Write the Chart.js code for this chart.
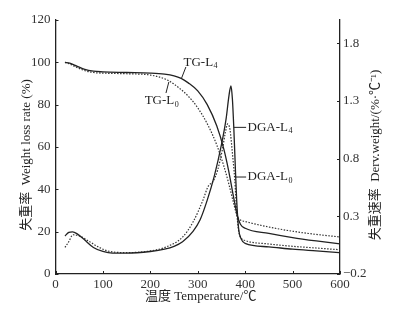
<!DOCTYPE html>
<html>
<head>
<title>TG / DGA curves</title>
<script src="https://cdn.jsdelivr.net/npm/chart.js"></script>
<style>
    body { margin: 0; background: #fff; }
    #wrap { width: 397px; height: 316px; position: relative; }
</style>
</head>
<body>
<div id="wrap"><canvas id="chart"></canvas></div>
<script>
    // temperatures (°C) and values
    const tgL4T = [20, 30, 45, 60, 80, 100, 150, 200, 230, 250, 265, 280, 300, 320, 340, 355, 365, 375, 383, 390, 400, 450, 500, 550, 600];
    const tgL4  = [100, 99.6, 98.2, 96.8, 95.8, 95.5, 95.2, 94.9, 94.4, 93.6, 92.4, 90.3, 86.5, 80, 70, 59, 49, 37, 28, 23.5, 21.6, 19.2, 17.2, 15.6, 14.2];

    const tgL0T = [20, 30, 45, 60, 80, 100, 150, 200, 237, 260, 280, 300, 320, 340, 355, 365, 375, 383, 390, 400, 450, 500, 550, 600];
    const tgL0  = [100, 99.2, 97.6, 96.2, 95.2, 94.9, 94.6, 94, 91.5, 88, 84, 78.5, 71, 61, 51, 43, 34, 27.5, 25.5, 24.8, 22.2, 20.2, 18.7, 17.5];

    const dgaL4T = [20, 28, 36, 45, 60, 80, 100, 120, 150, 200, 230, 250, 268, 290, 305, 320, 335, 350, 360, 366, 370, 373, 376, 379, 382, 386, 392, 400, 450, 500, 550, 600];
    const dgaL4  = [0.13, 0.16, 0.165, 0.15, 0.1, 0.03, -0.005, -0.02, -0.02, -0.005, 0.015, 0.04, 0.08, 0.17, 0.27, 0.44, 0.65, 0.92, 1.15, 1.35, 1.43, 1.32, 1.07, 0.75, 0.45, 0.2, 0.1, 0.065, 0.035, 0.015, 0.0, -0.015];

    const dgaL0T = [20, 28, 37, 50, 70, 90, 110, 150, 200, 234, 268, 290, 311, 322, 332, 342, 352, 358, 363, 368, 373, 378, 382, 386, 392, 400, 450, 500, 550, 600];
    const dgaL0  = [0.03, 0.08, 0.14, 0.13, 0.085, 0.035, 0.0, -0.015, 0.0, 0.035, 0.12, 0.25, 0.44, 0.56, 0.6, 0.7, 0.88, 1.02, 1.1, 1.05, 0.85, 0.62, 0.35, 0.18, 0.11, 0.09, 0.06, 0.04, 0.025, 0.01];

    const rightTicks = [-0.2, 0.3, 0.8, 1.3, 1.8];

    // curve labels: text, subscript, anchor (T, value, axis), leader line from/to
    const curveLabels = [
        { main: 'TG-L', sub: '4', axis: 'y', t: 270, v: 100, lead: [[275, 97.8], [266, 92.6]] },
        { main: 'TG-L', sub: '0', axis: 'y', t: 188, v: 82, lead: [[233, 85.5], [239, 90.7]] },
        { main: 'DGA-L', sub: '4', axis: 'y1', t: 405, v: 1.07, lead: [[376, 1.07], [402, 1.07]] },
        { main: 'DGA-L', sub: '0', axis: 'y1', t: 405, v: 0.64, lead: [[379, 0.64], [402, 0.64]] }
    ];

    const SERIF = "'Liberation Serif', 'Times New Roman', 'Noto Sans CJK SC', serif";
    const INK = '#222';

    const pts = (ts, vs) => ts.map((t, i) => ({ x: t, y: vs[i] }));

    const tickMarks = {
        id: 'tickMarks',
        afterDraw(chart) {
            const { ctx, chartArea: a, scales } = chart;
            ctx.save();
            ctx.strokeStyle = INK;
            ctx.lineWidth = 1;
            ctx.beginPath();
            scales.x.ticks.forEach((t, i) => {
                const p = Math.round(scales.x.getPixelForTick(i)) + 0.5;
                ctx.moveTo(p, a.bottom); ctx.lineTo(p, a.bottom - 3);
            });
            scales.y.ticks.forEach((t, i) => {
                const p = Math.round(scales.y.getPixelForTick(i)) + 0.5;
                ctx.moveTo(a.left, p); ctx.lineTo(a.left + 3, p);
            });
            scales.y1.ticks.forEach((t, i) => {
                const p = Math.round(scales.y1.getPixelForTick(i)) + 0.5;
                ctx.moveTo(a.right, p); ctx.lineTo(a.right - 3, p);
            });
            ctx.stroke();
            ctx.restore();
        }
    };

    const texts = {
        id: 'texts',
        afterDraw(chart) {
            const { ctx, chartArea: a, scales } = chart;
            ctx.save();
            ctx.fillStyle = INK;
            ctx.strokeStyle = INK;
            ctx.lineWidth = 1;

            // axis titles
            ctx.font = '13px ' + SERIF;
            ctx.textAlign = 'center';
            ctx.textBaseline = 'middle';
            ctx.fillText('温度 Temperature/℃', (a.left + a.right) / 2 + 3, 297);

            const midY = (a.top + a.bottom) / 2 + 8;
            ctx.save();
            ctx.translate(27, midY);
            ctx.rotate(-Math.PI / 2);
            ctx.fillText('失重率  Weight loss rate (%)', 0, 0);
            ctx.restore();

            ctx.save();
            ctx.translate(376, midY);
            ctx.rotate(-Math.PI / 2);
            ctx.fillText('失重速率  Derv.weight/(%·℃⁻¹)', 0, 0);
            ctx.restore();

            // curve labels with subscripts and leader lines
            curveLabels.forEach(l => {
                const ys = scales[l.axis];
                const x = scales.x.getPixelForValue(l.t);
                const y = ys.getPixelForValue(l.v);
                ctx.textAlign = 'left';
                ctx.textBaseline = 'middle';
                ctx.font = '13px ' + SERIF;
                ctx.fillText(l.main, x, y);
                const w = ctx.measureText(l.main).width;
                ctx.font = '8px ' + SERIF;
                ctx.fillText(l.sub, x + w + 0.5, y + 4);

                ctx.beginPath();
                ctx.moveTo(scales.x.getPixelForValue(l.lead[0][0]), ys.getPixelForValue(l.lead[0][1]));
                ctx.lineTo(scales.x.getPixelForValue(l.lead[1][0]), ys.getPixelForValue(l.lead[1][1]));
                ctx.stroke();
            });
            ctx.restore();
        }
    };

    const solid = { borderColor: INK, borderWidth: 1.3, pointRadius: 0, cubicInterpolationMode: 'monotone', fill: false };
    const dotted = { borderColor: '#333', borderWidth: 1.2, borderDash: [1.5, 1.5], pointRadius: 0, cubicInterpolationMode: 'monotone', fill: false };

    new Chart(document.getElementById('chart'), {
        type: 'line',
        data: {
            datasets: [
                { label: 'TG-L4', data: pts(tgL4T, tgL4), yAxisID: 'y', ...solid },
                { label: 'TG-L0', data: pts(tgL0T, tgL0), yAxisID: 'y', ...dotted },
                { label: 'DGA-L4', data: pts(dgaL4T, dgaL4), yAxisID: 'y1', ...solid },
                { label: 'DGA-L0', data: pts(dgaL0T, dgaL0), yAxisID: 'y1', ...dotted }
            ]
        },
        options: {
            responsive: true,
            maintainAspectRatio: false,
            animation: false,
            layout: { padding: { top: 20, left: 0, right: 0, bottom: 0 } },
            plugins: { legend: { display: false }, tooltip: { enabled: false } },
            scales: {
                x: {
                    type: 'linear', min: 0, max: 600,
                    ticks: { stepSize: 100, color: '#333', font: { family: SERIF, size: 13 }, padding: 3, maxRotation: 0 },
                    grid: { display: false, drawTicks: false },
                    border: { display: true, color: INK, width: 1.3 },
                    afterFit: s => { s.height = 42; }
                },
                y: {
                    position: 'left', min: 0, max: 120,
                    ticks: { stepSize: 20, color: '#333', font: { family: SERIF, size: 13 }, padding: 5 },
                    grid: { display: false, drawTicks: false },
                    border: { display: true, color: INK, width: 1.3 },
                    afterFit: s => { s.width = 55.5; }
                },
                y1: {
                    position: 'right', min: -0.2, max: 2.0,
                    afterBuildTicks: s => { s.ticks = rightTicks.map(v => ({ value: v })); },
                    ticks: {
                        color: '#333', font: { family: SERIF, size: 13 }, padding: 3,
                        callback: v => (v < 0 ? '−' : '') + Math.abs(v).toFixed(1)
                    },
                    grid: { display: false, drawTicks: false },
                    border: { display: true, color: INK, width: 1.3 },
                    afterFit: s => { s.width = 57; }
                }
            }
        },
        plugins: [tickMarks, texts]
    });
</script>
</body>
</html>
